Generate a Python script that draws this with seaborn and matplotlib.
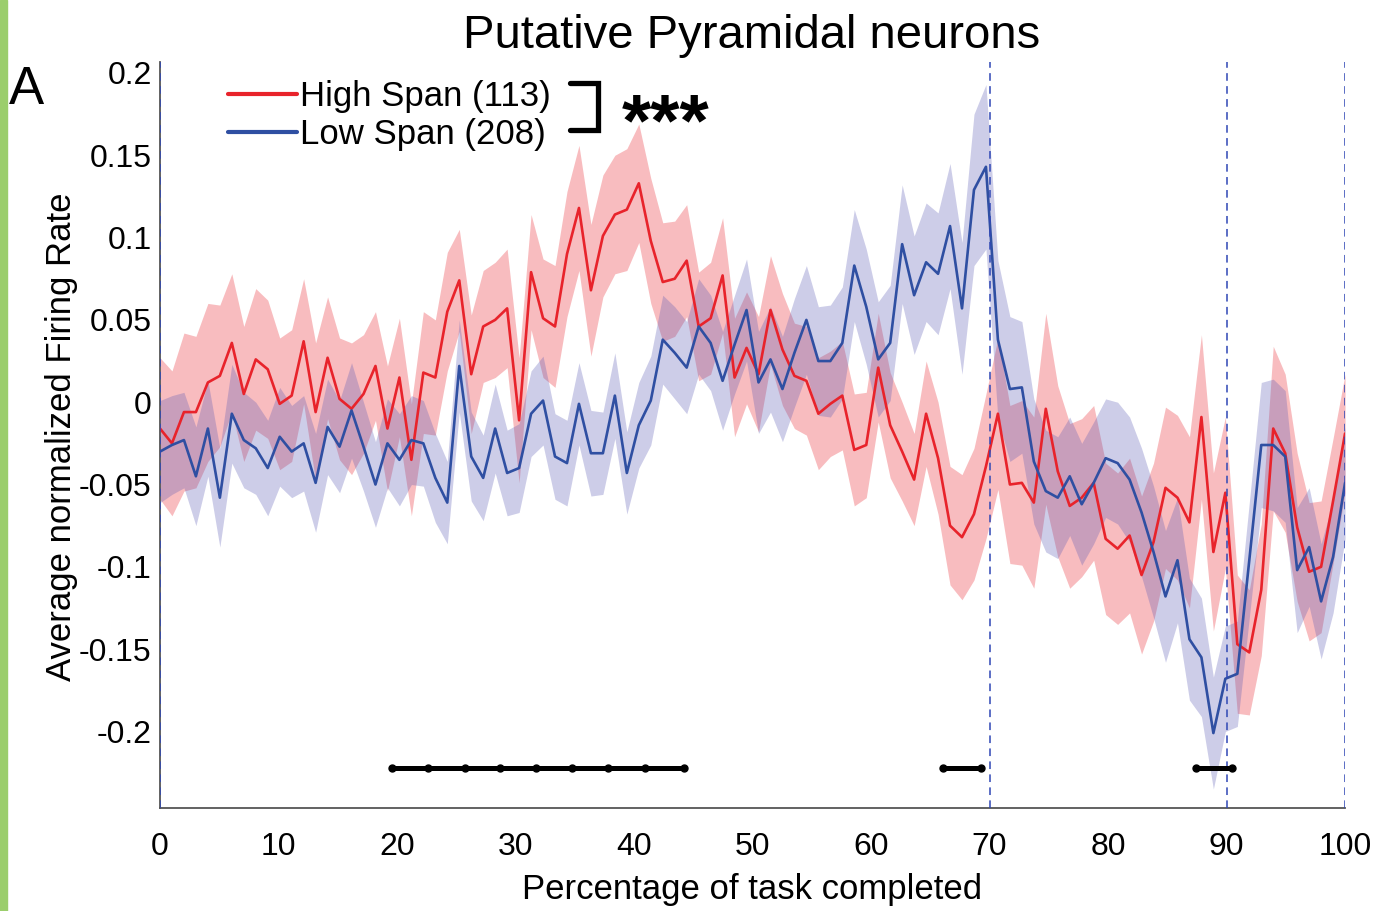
import numpy as np
import pandas as pd
import matplotlib
matplotlib.use("Agg")
import matplotlib.pyplot as plt
from matplotlib.patches import Rectangle
import seaborn as sns

# ---- data -------------------------------------------------------------
pct_completed = np.linspace(0, 100, 100)

high_span_mean = [
    -0.016, -0.025, -0.006, -0.006, 0.012, 0.016, 0.036, 0.005, 0.026, 0.020,
    -0.001, 0.004, 0.037, -0.006, 0.027, 0.002, -0.004, 0.005, 0.022, -0.016,
    0.015, -0.035, 0.018, 0.015, 0.055, 0.074, 0.017, 0.046, 0.050, 0.057,
    -0.011, 0.079, 0.051, 0.046, 0.090, 0.118, 0.068, 0.101, 0.114, 0.117,
    0.133, 0.098, 0.073, 0.075, 0.086, 0.046, 0.051, 0.077, 0.015, 0.033,
    0.017, 0.056, 0.032, 0.016, 0.013, -0.007, -0.001, 0.004, -0.029, -0.026,
    0.021, -0.014, -0.030, -0.047, -0.007, -0.034, -0.075, -0.082, -0.068, -0.039,
    -0.007, -0.050, -0.049, -0.061, -0.004, -0.042, -0.063, -0.058, -0.049, -0.083,
    -0.089, -0.081, -0.105, -0.085, -0.052, -0.058, -0.073, -0.009, -0.091, -0.055,
    -0.147, -0.152, -0.114, -0.016, -0.031, -0.076, -0.103, -0.100, -0.060, -0.019,
]
high_span_sem = [
    0.043, 0.044, 0.048, 0.046, 0.048, 0.043, 0.042, 0.041, 0.043, 0.042,
    0.040, 0.040, 0.038, 0.042, 0.037, 0.037, 0.040, 0.036, 0.033, 0.038,
    0.036, 0.034, 0.037, 0.035, 0.036, 0.031, 0.036, 0.034, 0.035, 0.036,
    0.038, 0.035, 0.036, 0.037, 0.038, 0.038, 0.040, 0.037, 0.036, 0.037,
    0.036, 0.038, 0.036, 0.035, 0.034, 0.033, 0.034, 0.035, 0.036, 0.034,
    0.035, 0.033, 0.034, 0.032, 0.033, 0.034, 0.032, 0.033, 0.034, 0.032,
    0.033, 0.032, 0.030, 0.028, 0.032, 0.034, 0.036, 0.038, 0.040, 0.044,
    0.046, 0.048, 0.050, 0.052, 0.058, 0.052, 0.050, 0.048, 0.047, 0.046,
    0.046, 0.047, 0.048, 0.048, 0.049, 0.050, 0.052, 0.050, 0.048, 0.046,
    0.042, 0.038, 0.040, 0.050, 0.048, 0.045, 0.042, 0.040, 0.038, 0.036,
]
low_span_mean = [
    -0.030, -0.026, -0.023, -0.045, -0.016, -0.058, -0.007, -0.023, -0.028, -0.040,
    -0.021, -0.030, -0.025, -0.049, -0.015, -0.027, -0.005, -0.027, -0.050, -0.025,
    -0.035, -0.023, -0.025, -0.046, -0.061, 0.022, -0.033, -0.046, -0.016, -0.043,
    -0.040, -0.007, 0.001, -0.033, -0.037, -0.001, -0.031, -0.031, 0.004, -0.043,
    -0.014, 0.001, 0.038, 0.030, 0.021, 0.046, 0.036, 0.013, 0.035, 0.056,
    0.012, 0.026, 0.008, 0.030, 0.050, 0.025, 0.025, 0.036, 0.083, 0.058,
    0.026, 0.036, 0.096, 0.065, 0.085, 0.078, 0.107, 0.057, 0.129, 0.143,
    0.038, 0.008, 0.009, -0.036, -0.054, -0.058, -0.045, -0.062, -0.049, -0.034,
    -0.037, -0.047, -0.067, -0.091, -0.118, -0.096, -0.144, -0.155, -0.201, -0.168,
    -0.165, -0.096, -0.026, -0.026, -0.033, -0.102, -0.088, -0.121, -0.094, -0.049,
]
low_span_sem = [
    0.031, 0.030, 0.029, 0.030, 0.029, 0.030, 0.030, 0.029, 0.028, 0.029,
    0.030, 0.028, 0.029, 0.030, 0.029, 0.028, 0.029, 0.027, 0.026, 0.027,
    0.028, 0.027, 0.026, 0.027, 0.025, 0.028, 0.027, 0.026, 0.027, 0.026,
    0.027, 0.026, 0.027, 0.026, 0.026, 0.025, 0.026, 0.025, 0.026, 0.025,
    0.026, 0.027, 0.027, 0.028, 0.028, 0.029, 0.029, 0.030, 0.030, 0.031,
    0.031, 0.032, 0.032, 0.033, 0.033, 0.033, 0.034, 0.034, 0.034, 0.035,
    0.035, 0.035, 0.036, 0.036, 0.036, 0.037, 0.038, 0.040, 0.046, 0.050,
    0.048, 0.044, 0.040, 0.038, 0.037, 0.037, 0.036, 0.037, 0.037, 0.036,
    0.037, 0.038, 0.039, 0.040, 0.040, 0.038, 0.037, 0.036, 0.034, 0.032,
    0.032, 0.035, 0.038, 0.040, 0.040, 0.038, 0.036, 0.035, 0.034, 0.034,
]

group_labels = ["High Span (113)", "Low Span (208)"]
group_colors = ["#e8232b", "#2f4fa2"]
band_colors = ["#e8232b", "#5a5ab5"]

# bins where the two groups differ (significance bars)
sig_segments = [
    [19.6, 22.6, 25.7, 28.7, 31.7, 34.8, 37.8, 40.9, 44.2],
    [66.1, 69.3],
    [87.4, 90.5],
]
task_boundaries = [0, 70, 90, 100]
y_ticks = [-0.2, -0.15, -0.1, -0.05, 0, 0.05, 0.1, 0.15, 0.2]
y_tick_labels = ["-0.2", "-0.15", "-0.1", "-0.05", "0", "0.05", "0.1", "0.15", "0.2"]
x_ticks = [0, 10, 20, 30, 40, 50, 60, 70, 80, 90, 100]

# ---- style ------------------------------------------------------------
sns.set_theme(style="white")
plt.rcParams["font.family"] = ["Liberation Sans", "DejaVu Sans"]
plt.rcParams["text.color"] = "black"

df = pd.concat([
    pd.DataFrame({"pct": pct_completed, "rate": high_span_mean, "sem": high_span_sem,
                  "group": group_labels[0]}),
    pd.DataFrame({"pct": pct_completed, "rate": low_span_mean, "sem": low_span_sem,
                  "group": group_labels[1]}),
], ignore_index=True)

fig = plt.figure(figsize=(13.77, 9.11), dpi=100)
ax = fig.add_axes([0.1162, 0.1131, 0.8606, 0.8189])

# shaded SEM bands
for lab, col in zip(group_labels, band_colors):
    g = df[df["group"] == lab]
    ax.fill_between(g["pct"], g["rate"] - g["sem"], g["rate"] + g["sem"],
                    color=col, alpha=0.30, lw=0, zorder=1)

sns.lineplot(data=df, x="pct", y="rate", hue="group", hue_order=group_labels,
             palette=group_colors, linewidth=1.9, ax=ax, zorder=3, errorbar=None)

# task-phase boundaries
for b in task_boundaries:
    ax.axvline(b, color="#2f47b5", ls=(0, (5, 3.5)), lw=1.1, zorder=4)

# significance bars
for seg in sig_segments:
    ax.plot(seg, [-0.2225] * len(seg), color="black", lw=3.6, marker="o",
            ms=5, zorder=5, clip_on=False)

ax.set_xlim(0, 100)
ax.set_ylim(-0.2465, 0.2067)
ax.set_xticks(x_ticks)
ax.set_xticklabels([str(t) for t in x_ticks])
ax.set_yticks(y_ticks)
ax.set_yticklabels(y_tick_labels)
ax.tick_params(axis="both", direction="in", length=9, width=1.0, color="#555555",
               labelsize=23, labelcolor="black")
ax.tick_params(axis="x", pad=17)
ax.tick_params(axis="y", pad=6)
for side in ["top", "right"]:
    ax.spines[side].set_visible(False)
for side in ["left", "bottom"]:
    ax.spines[side].set_color("#555555")
    ax.spines[side].set_linewidth(1.3)
ax.set_xlabel("")
ax.set_ylabel("")

leg = ax.legend(loc="upper left", bbox_to_anchor=(0.057, 0.976), frameon=False,
                fontsize=25, handlelength=2.0, handletextpad=0.08,
                borderpad=0, borderaxespad=0, labelspacing=0.15)
for h in leg.get_lines():
    h.set_linewidth(3)
for t in leg.get_texts():
    t.set_color("black")

# bracket with significance stars
bx = [0.346, 0.3696, 0.3696, 0.346]
by = [0.972, 0.972, 0.9088, 0.9088]
ax.plot(bx, by, color="black", lw=3.8, transform=ax.transAxes, clip_on=False,
        solid_joinstyle="miter")
ax.text(0.4264, 0.8876, "***", transform=ax.transAxes, fontsize=54,
        fontweight="bold", ha="center", va="baseline", color="black")

# titles and labels
fig.text(752 / 1377, 1 - 36 / 911, "Putative Pyramidal neurons", fontsize=34,
         ha="center", va="center", color="black")
fig.text(752 / 1377, 1 - 889 / 911, "Percentage of task completed", fontsize=25,
         ha="center", va="center", color="black")
fig.text(62 / 1377, 1 - 437 / 911, "Average normalized Firing Rate", fontsize=25,
         ha="center", va="center", rotation=90, color="black")
fig.text(9 / 1377, 1 - 65 / 911, "A", fontsize=38, ha="left", va="top", color="black")

fig.patches.append(Rectangle((0, 0), 7 / 1377, 1, transform=fig.transFigure,
                             color="#9bce6c", zorder=0))

fig.savefig("out.png", dpi=100)
